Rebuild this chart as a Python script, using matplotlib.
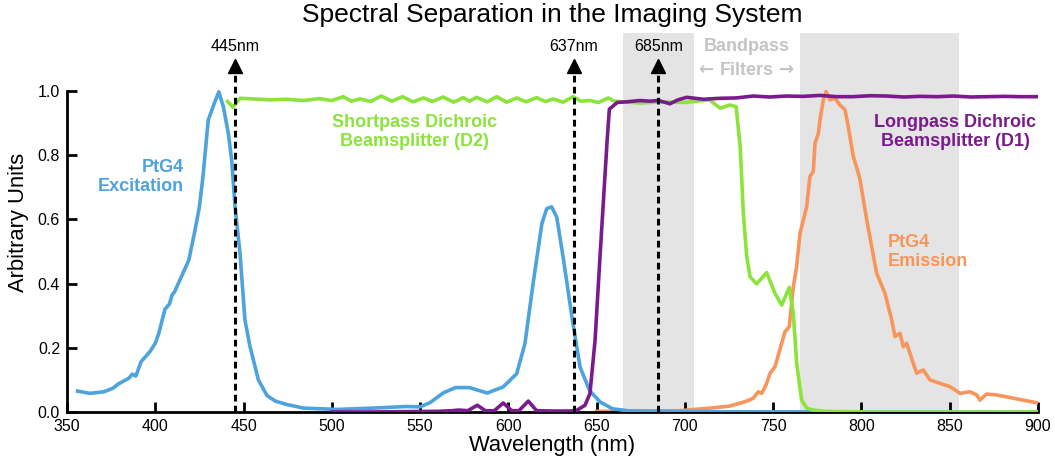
import numpy as np
import matplotlib
matplotlib.use("Agg")
import matplotlib.pyplot as plt

plt.rcParams['font.family'] = ['Liberation Sans', 'DejaVu Sans']

# PtG4 excitation (blue)
exc_nm = [356, 363, 371, 376, 379, 385, 387, 389, 392, 397, 400, 402, 405.5, 408, 409.5, 411,
          419, 422.5, 425, 427, 430, 433, 436, 438.6, 441.4, 443.3, 445.2, 448, 450.8, 453.7,
          458.4, 463.3, 468, 474, 484, 503, 523, 542, 550, 555.6, 563, 570, 578, 588, 597,
          604.7, 609.4, 614, 619, 621.7, 624.5, 627.4, 631, 636, 640.6, 646, 652, 659, 669,
          700, 800, 900]
exc_val = [0.065, 0.058, 0.063, 0.074, 0.087, 0.105, 0.118, 0.112, 0.157, 0.188, 0.214, 0.245,
           0.32, 0.336, 0.364, 0.375, 0.473, 0.566, 0.639, 0.732, 0.909, 0.955, 0.997, 0.95,
           0.867, 0.784, 0.639, 0.494, 0.286, 0.203, 0.1, 0.051, 0.034, 0.024, 0.012, 0.008,
           0.012, 0.017, 0.016, 0.029, 0.059, 0.076, 0.076, 0.059, 0.078, 0.119, 0.213, 0.4,
           0.587, 0.633, 0.639, 0.607, 0.483, 0.296, 0.14, 0.067, 0.031, 0.01, 0.003,
           0.001, 0.0, 0.0]

# shortpass dichroic D2 (green)
sp_nm = [441, 444, 448, 456, 465, 474, 484, 493, 500, 506.5, 511, 516, 522, 528, 534, 540, 546,
         552, 557, 563, 569, 574.5, 578, 582, 588, 593.4, 599, 604.7, 610, 616, 621, 625.4, 631,
         636.8, 641, 646.2, 651, 656.6, 660, 665, 675, 686, 700, 714, 720, 725.5, 729, 731.3,
         733.1, 735, 736.9, 740.6, 746.3, 751, 754.8, 759.1, 761.4, 763.3, 766.1, 769, 772.7,
         780, 800, 900]
sp_val = [0.967, 0.949, 0.977, 0.975, 0.972, 0.974, 0.970, 0.976, 0.970, 0.982, 0.968, 0.975,
          0.967, 0.984, 0.968, 0.982, 0.966, 0.978, 0.967, 0.981, 0.965, 0.979, 0.968, 0.980,
          0.966, 0.982, 0.965, 0.978, 0.966, 0.979, 0.967, 0.975, 0.965, 0.982, 0.968, 0.970,
          0.964, 0.978, 0.968, 0.966, 0.962, 0.966, 0.964, 0.972, 0.946, 0.956, 0.951, 0.826,
          0.619, 0.484, 0.421, 0.399, 0.434, 0.37, 0.333, 0.388, 0.307, 0.152, 0.037, 0.012,
          0.006, 0.002, 0.0, 0.0]

# longpass dichroic D1 (purple)
lp_nm = [500, 520, 540, 560, 568, 572, 577, 582.4, 587, 592, 597.1, 602, 606, 611.3, 616, 625,
         635, 638.7, 643.4, 646.2, 649.1, 651.9, 654.2, 656, 657.2, 661.7, 667, 674.6, 680,
         684.9, 691.6, 696, 701, 710.4, 719.9, 729, 738.7, 748, 757.6, 767, 776.5, 786, 795,
         805, 814.3, 824, 833, 843, 852, 862, 871, 881, 890, 899]
lp_val = [0.0, 0.0, 0.001, 0.002, 0.004, 0.006, 0.004, 0.021, 0.004, 0.004, 0.028, 0.004, 0.004,
          0.034, 0.004, 0.003, 0.003, 0.005, 0.021, 0.057, 0.223, 0.483, 0.69, 0.85, 0.943,
          0.964, 0.966, 0.970, 0.968, 0.970, 0.960, 0.972, 0.980, 0.974, 0.977, 0.978, 0.984,
          0.981, 0.984, 0.983, 0.986, 0.982, 0.982, 0.985, 0.984, 0.981, 0.983, 0.982, 0.984,
          0.981, 0.982, 0.983, 0.982, 0.982]

# PtG4 emission (orange)
em_nm = [650, 670, 697, 714, 725, 731, 736, 738.7, 741.6, 743.5, 746, 748.2, 751, 754.8, 756.7,
         759.1, 761.4, 763.3, 765.2, 767.1, 769, 770.8, 772.7, 773.7, 775.6, 776.5, 778.4, 779.9,
         782.2, 785, 787.8, 790.7, 792.5, 795.4, 798.2, 799.2, 803, 805.8, 808.6, 813.3, 817.1,
         819, 821.8, 823.7, 825.6, 829.3, 831.3, 835, 838.8, 844.5, 850.1, 855.8, 861.5, 865.3,
         867.1, 870.9, 876.6, 886, 899]
em_val = [0.002, 0.003, 0.004, 0.012, 0.018, 0.027, 0.036, 0.043, 0.063, 0.058, 0.085, 0.12,
          0.141, 0.214, 0.25, 0.266, 0.39, 0.453, 0.557, 0.598, 0.64, 0.733, 0.749, 0.837, 0.868,
          0.91, 0.972, 0.998, 0.972, 0.977, 0.956, 0.941, 0.889, 0.795, 0.744, 0.723, 0.598,
          0.515, 0.432, 0.37, 0.287, 0.235, 0.245, 0.203, 0.214, 0.152, 0.121, 0.131, 0.1,
          0.089, 0.079, 0.058, 0.063, 0.053, 0.037, 0.056, 0.053, 0.043, 0.029]

laser_nm = [445, 637, 685]
bands = [(665, 705), (765, 855)]
xticks = [350, 400, 450, 500, 550, 600, 650, 700, 750, 800, 850, 900]
yticks = [0.0, 0.2, 0.4, 0.6, 0.8, 1.0]

blue = '#4ca3dd'
green = '#8be33c'
purple = '#7b1a8c'
orange = '#f7955a'
grey = '#e4e4e4'
label_grey = '#c4c4c4'

fig = plt.figure(figsize=(10.55, 4.67), dpi=100)
ax = fig.add_axes([0.0635, 0.1178, 0.9204, 0.812])

for b in bands:
    ax.axvspan(b[0], b[1], color=grey, lw=0, zorder=0)

ax.plot(em_nm, em_val, color=orange, lw=2.6, zorder=2, solid_joinstyle='round')
ax.plot(exc_nm, exc_val, color=blue, lw=2.6, zorder=3, solid_joinstyle='round')
ax.plot(sp_nm, sp_val, color=green, lw=2.6, zorder=4, solid_joinstyle='round')
ax.plot(lp_nm, lp_val, color=purple, lw=2.6, zorder=5, solid_joinstyle='round')

for wl in laser_nm:
    ax.plot([wl, wl], [0, 1.07], color='black', lw=2.2, ls=(0, (2.2, 1.4)), zorder=6)
    ax.plot(wl, 1.078, marker='^', color='black', ms=10, zorder=6)
    ax.text(wl, 1.139, '%dnm' % wl, ha='center', va='center', fontsize=11.5)

ax.text(416, 0.732, 'PtG4\nExcitation', color=blue, fontsize=13, fontweight='bold',
        ha='right', va='center', linespacing=1.15)
ax.text(547, 0.872, 'Shortpass Dichroic\nBeamsplitter (D2)', color=green, fontsize=13,
        fontweight='bold', ha='center', va='center', linespacing=1.15)
ax.text(853, 0.872, 'Longpass Dichroic\nBeamsplitter (D1)', color=purple, fontsize=13,
        fontweight='bold', ha='center', va='center', linespacing=1.15)
ax.text(815, 0.497, 'PtG4\nEmission', color=orange, fontsize=13, fontweight='bold',
        ha='left', va='center', linespacing=1.15)
ax.text(735, 1.138, 'Bandpass', color=label_grey, fontsize=13, fontweight='bold',
        ha='center', va='center')
ax.text(735, 1.064, 'Filters', color=label_grey, fontsize=13, fontweight='bold',
        ha='center', va='center')
ax.text(711.5, 1.064, '\u2190', color=label_grey, fontsize=13, fontweight='bold',
        ha='center', va='center', family='DejaVu Sans')
ax.text(757.5, 1.064, '\u2192', color=label_grey, fontsize=13, fontweight='bold',
        ha='center', va='center', family='DejaVu Sans')

ax.set_xlim(350, 900)
ax.set_ylim(0, 1.181)
ax.set_xticks(xticks)
ax.set_yticks(yticks)
ax.set_yticklabels(['%.1f' % t for t in yticks])
ax.tick_params(direction='in', length=7, width=2, labelsize=11.5, pad=5)
ax.spines['top'].set_visible(False)
ax.spines['right'].set_visible(False)
ax.spines['left'].set_linewidth(2)
ax.spines['bottom'].set_linewidth(2)
ax.spines['left'].set_bounds(0, 1)
ax.spines['bottom'].set_bounds(350, 900)

ax.set_xlabel('Wavelength (nm)', fontsize=15.8, labelpad=1)
ax.set_ylabel('Arbitrary Units', fontsize=15.8, labelpad=6)
fig.text(0.523, 0.968, 'Spectral Separation in the Imaging System', fontsize=19,
         ha='center', va='center')

fig.savefig('out.png', dpi=100)
